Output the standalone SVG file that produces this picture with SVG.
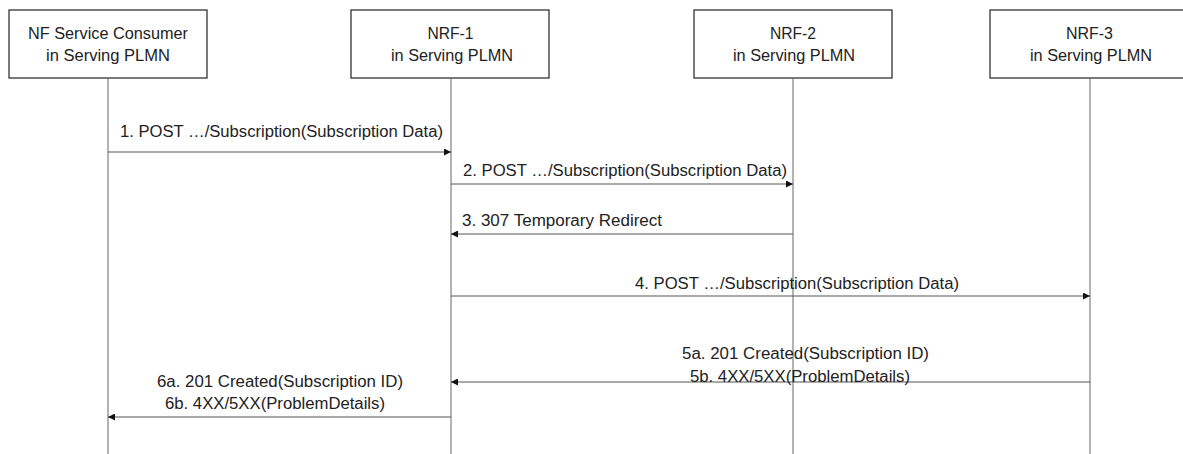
<svg xmlns="http://www.w3.org/2000/svg" width="1183" height="454" viewBox="0 0 1183 454">
<style>
.box{fill:#fff;stroke:#333;stroke-width:1.3}
.life{stroke:#666;stroke-width:1}
.msg{stroke:#555;stroke-width:1;fill:none}
text{font-family:"Liberation Sans",Arial,sans-serif;font-size:16px;fill:#222}
.c{text-anchor:middle}
</style>
<defs>
<marker id="ah" viewBox="0 0 10 10" refX="10" refY="5" markerWidth="9" markerHeight="7" markerUnits="userSpaceOnUse" orient="auto">
<path d="M0,0 L10,5 L0,10 z" fill="#111"/>
</marker>
</defs>
<g id="consumer">
<rect class="box" x="9" y="10" width="198" height="68"/>
<text class="c" x="108" y="39" textLength="160" lengthAdjust="spacingAndGlyphs">NF Service Consumer</text>
<text class="c" x="108" y="61" textLength="124" lengthAdjust="spacingAndGlyphs">in Serving PLMN</text>
<line class="life" x1="108" y1="78" x2="108" y2="454"/>
</g>
<g id="nrf1">
<rect class="box" x="351" y="10" width="198" height="68"/>
<text class="c" x="450.5" y="39" textLength="46" lengthAdjust="spacingAndGlyphs">NRF-1</text>
<text class="c" x="452" y="61" textLength="122" lengthAdjust="spacingAndGlyphs">in Serving PLMN</text>
<line class="life" x1="451" y1="78" x2="451" y2="454"/>
</g>
<g id="nrf2">
<rect class="box" x="694" y="10" width="198" height="68"/>
<text class="c" x="793" y="39" textLength="46" lengthAdjust="spacingAndGlyphs">NRF-2</text>
<text class="c" x="794" y="61" textLength="122" lengthAdjust="spacingAndGlyphs">in Serving PLMN</text>
<line class="life" x1="793" y1="78" x2="793" y2="454"/>
</g>
<g id="nrf3">
<rect class="box" x="990" y="10" width="198" height="68"/>
<text class="c" x="1089.5" y="39" textLength="47" lengthAdjust="spacingAndGlyphs">NRF-3</text>
<text class="c" x="1091" y="61" textLength="122" lengthAdjust="spacingAndGlyphs">in Serving PLMN</text>
<line class="life" x1="1090" y1="78" x2="1090" y2="454"/>
</g>
<g id="connectors">
<line class="msg" x1="108" y1="152" x2="451" y2="152" marker-end="url(#ah)"/>
<line class="msg" x1="451" y1="184" x2="793" y2="184" marker-end="url(#ah)"/>
<line class="msg" x1="793" y1="234" x2="451" y2="234" marker-end="url(#ah)"/>
<line class="msg" x1="451" y1="296" x2="1090" y2="296" marker-end="url(#ah)"/>
<line class="msg" x1="1090" y1="382" x2="451" y2="382" marker-end="url(#ah)"/>
<line class="msg" x1="451" y1="417" x2="108" y2="417" marker-end="url(#ah)"/>
</g>
<g id="labels">
<text x="120" y="137" textLength="323" lengthAdjust="spacingAndGlyphs">1. POST …/Subscription(Subscription Data)</text>
<text x="463" y="176" textLength="324" lengthAdjust="spacingAndGlyphs">2. POST …/Subscription(Subscription Data)</text>
<text x="462" y="226" textLength="200" lengthAdjust="spacingAndGlyphs">3. 307 Temporary Redirect</text>
<text x="635" y="289" textLength="324" lengthAdjust="spacingAndGlyphs">4. POST …/Subscription(Subscription Data)</text>
<text x="682" y="359" textLength="247" lengthAdjust="spacingAndGlyphs">5a. 201 Created(Subscription ID)</text>
<text x="690" y="382" textLength="220" lengthAdjust="spacingAndGlyphs">5b. 4XX/5XX(ProblemDetails)</text>
<text x="157" y="387" textLength="246" lengthAdjust="spacingAndGlyphs">6a. 201 Created(Subscription ID)</text>
<text x="165" y="409" textLength="220" lengthAdjust="spacingAndGlyphs">6b. 4XX/5XX(ProblemDetails)</text>
</g>
</svg>
